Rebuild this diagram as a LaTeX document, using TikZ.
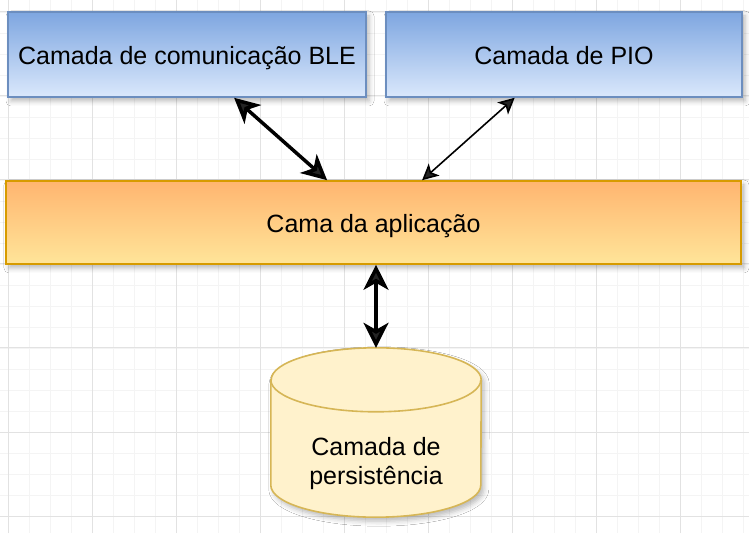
\documentclass[tikz,border=0pt]{standalone}
\usepackage{fontspec}
\setmainfont{Liberation Sans}
\usetikzlibrary{arrows.meta,calc,shadows.blur}
\definecolor{bluetop}{RGB}{126, 166, 224}
\definecolor{bluebottom}{RGB}{218, 232, 252}
\definecolor{blueline}{RGB}{108, 142, 191}
\definecolor{orangetop}{RGB}{255, 181, 112}
\definecolor{orangebottom}{RGB}{255, 229, 153}
\definecolor{orangeline}{RGB}{215, 155, 0}
\definecolor{dbfill}{RGB}{255, 242, 204}
\definecolor{dbline}{RGB}{214, 182, 86}
\definecolor{gridmajor}{RGB}{226, 226, 226}
\definecolor{gridminor}{RGB}{244, 244, 244}

\begin{document}
\begin{tikzpicture}[x=1pt, y=1pt,
    softshadow/.style={blur shadow={shadow xshift=3pt, shadow yshift=-4pt, shadow blur radius=5pt, shadow opacity=28}},
    layer/.style={draw, line width=1.6pt, inner sep=0pt, softshadow, text height=26pt, text depth=5pt, font=\fontsize{25}{29}\selectfont},
    bluelayer/.style={layer, draw=blueline, top color=bluetop, bottom color=bluebottom, minimum height=85pt},
    orangelayer/.style={layer, draw=orangeline, top color=orangetop, bottom color=orangebottom, minimum height=83pt},
    dbtext/.style={inner sep=0pt, align=center, font=\fontsize{25}{29}\selectfont},
    thickarrow/.style={{Stealth[length=25pt, width=25pt, inset=7pt]}-{Stealth[length=25pt, width=25pt, inset=7pt]}, line width=3.5pt},
    thinarrow/.style={{Stealth[length=16pt, width=16pt, inset=4pt]}-{Stealth[length=16pt, width=16pt, inset=4pt]}, line width=1.6pt}
]
    \useasboundingbox (0,0) rectangle (749,533);
    \fill[white] (0,0) rectangle (749,533);
    % background grid
    \begin{scope}[shift={(8,17)}]
        \draw[gridminor, line width=0.8pt] (-8,-17) grid[step=21pt] (741,516);
        \draw[gridmajor, line width=1pt]   (-8,-17) grid[step=84pt] (741,516);
    \end{scope}

    % layers
    \node[bluelayer,   minimum width=358pt] (ble) at (187.0, 478.5) {Camada de comunicação BLE};
    \node[bluelayer,   minimum width=356pt] (pio) at (564.0, 478.5) {Camada de PIO};
    \node[orangelayer, minimum width=735pt] (app) at (373.5, 310.5) {Cama da aplicação};

    % persistence cylinder
    \node[minimum width=210pt, minimum height=169pt, inner sep=0pt] (db) at (376.0, 100.5) {};
    \filldraw[draw=dbline, fill=dbfill, line width=1.6pt, softshadow]
        ($(db.north west)+(0,-32)$) -- ($(db.south west)+(0,32)$)
        arc[start angle=180, end angle=360, x radius=105pt, y radius=32pt]
        -- ($(db.north east)+(0,-32)$)
        arc[start angle=0, end angle=180, x radius=105pt, y radius=32pt] -- cycle;
    \draw[dbline, line width=1.6pt] ($(db.north west)+(0,-32)$)
        arc[start angle=180, end angle=360, x radius=105pt, y radius=32pt];
    \node[dbtext] (dblabel) at ($(db.center)+(0,-31.5)$) {Camada de\\persistência};

    % connectors
    \coordinate (bleport)  at ($(ble.south west)!0.631!(ble.south east)$);
    \coordinate (pioport)  at ($(pio.south west)!0.362!(pio.south east)$);
    \coordinate (appleft)  at ($(app.north west)!0.437!(app.north east)$);
    \coordinate (appright) at ($(app.north west)!0.566!(app.north east)$);
    \draw[thickarrow] (bleport) -- (appleft);
    \draw[thinarrow]  (pioport) -- (appright);
    \draw[thickarrow] (app.south -| db.north) -- (db.north);
\end{tikzpicture}
\end{document}
